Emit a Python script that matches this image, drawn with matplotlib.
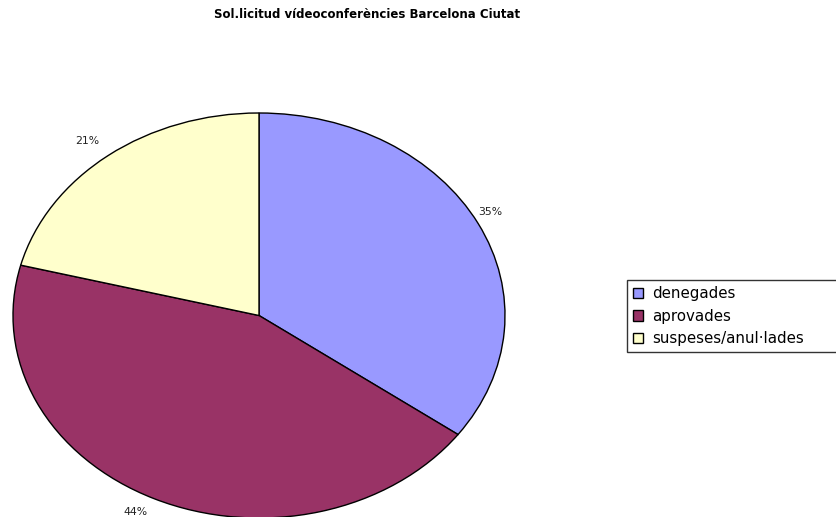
import matplotlib
matplotlib.use("Agg")
import matplotlib.pyplot as plt

title = "Sol.licitud vídeoconferències Barcelona Ciutat"
categories = ["denegades", "aprovades", "suspeses/anul·lades"]
values = [35, 44, 21]
pct_labels = ["35%", "44%", "21%"]
colors = ["#9999FF", "#993366", "#FFFFCC"]

plt.rcParams['font.family'] = ['DejaVu Sans']

W, H = 837, 517
fig = plt.figure(figsize=(W / 100, H / 100), dpi=100)
# axes box spanning the ellipse (pixels: x 13..505, y 113..518)
ax = fig.add_axes([13 / W, (H - 518) / H, 492 / W, 405 / H])

wedges, _ = ax.pie(values, colors=colors, startangle=90, counterclock=False,
                   wedgeprops=dict(edgecolor="black", linewidth=1.0),
                   radius=1.0)
ax.set_aspect('auto')
ax.set_xlim(-1, 1)
ax.set_ylim(-1, 1)
ax.axis('off')

# label positions (data coords of the unit-circle pie)
label_pos = [(0.94, 0.51), (-0.50, -0.97), (-0.70, 0.86)]
for lab, (x, y) in zip(pct_labels, label_pos):
    ax.text(x, y, lab, ha='center', va='center', fontsize=7.8, color='#222222',
            clip_on=False)

fig.text(367 / W, 1 - 14 / H, title, ha='center', va='center',
         fontsize=8.5, fontweight='bold')

leg = fig.legend(wedges, categories, loc='upper left',
                 bbox_to_anchor=(627 / W, 1 - 280 / H, 215 / W, 0.0),
                 mode='expand',
                 frameon=True, fancybox=False, fontsize=10.8,
                 handlelength=0.7, handleheight=0.7, handletextpad=0.55,
                 labelspacing=0.5, borderpad=0.4, borderaxespad=0)
leg.get_frame().set_edgecolor('black')
leg.get_frame().set_linewidth(1.0)
for h in leg.legend_handles:
    h.set_edgecolor('black')
    h.set_linewidth(1.0)

fig.savefig("out.png", dpi=100)
